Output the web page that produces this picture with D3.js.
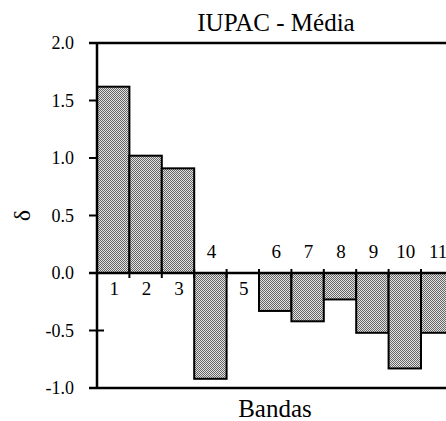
<!DOCTYPE html>
<html>
<head>
<meta charset="utf-8">
<script src="https://cdn.jsdelivr.net/npm/d3@7"></script>
<style>
  html, body { margin: 0; padding: 0; background: #fff; overflow: hidden; }
  svg { display: block; }
  text { font-family: "Liberation Serif", "Times New Roman", serif; fill: #000; }
</style>
</head>
<body>
<div id="chart"></div>
<script>
// data
const bandas = ["1", "2", "3", "4", "5", "6", "7", "8", "9", "10", "11"];
const delta = [1.62, 1.02, 0.91, -0.92, 0, -0.33, -0.42, -0.23, -0.52, -0.83, -0.52];
const yTicks = [2.0, 1.5, 1.0, 0.5, 0.0, -0.5, -1.0];

const width = 446, height = 421;

const svg = d3.select("#chart").append("svg")
    .attr("width", width)
    .attr("height", height);

// checkered grey fill like the scanned bars
const defs = svg.append("defs");
const pat = defs.append("pattern")
    .attr("id", "dots")
    .attr("width", 2).attr("height", 2)
    .attr("patternUnits", "userSpaceOnUse");
pat.append("rect").attr("width", 2).attr("height", 2).attr("fill", "#e2e2e2");
pat.append("rect").attr("x", 0).attr("y", 0).attr("width", 1).attr("height", 1).attr("fill", "#666");
pat.append("rect").attr("x", 1).attr("y", 1).attr("width", 1).attr("height", 1).attr("fill", "#666");

// scales
const x = d3.scaleBand().domain(bandas).range([97, 453.4]).padding(0);
const y = d3.scaleLinear().domain([-1, 2]).range([388, 43]);

// y ticks (crossing the axis, bars drawn over them)
svg.append("g")
    .selectAll("line")
    .data(yTicks)
    .join("line")
    .attr("x1", 89).attr("x2", 104)
    .attr("y1", d => y(d)).attr("y2", d => y(d))
    .attr("stroke", "#000").attr("stroke-width", 2);

svg.append("g")
    .selectAll("text")
    .data(yTicks)
    .join("text")
    .attr("x", 74)
    .attr("y", d => y(d))
    .attr("dy", "0.35em")
    .attr("text-anchor", "end")
    .attr("font-size", 18)
    .text(d => d3.format(".1f")(d).replace("−", "-"));

// bars
svg.append("g")
    .selectAll("rect")
    .data(delta)
    .join("rect")
    .attr("x", (d, i) => x(bandas[i]))
    .attr("width", x.bandwidth())
    .attr("y", d => y(Math.max(0, d)))
    .attr("height", d => Math.abs(y(d) - y(0)))
    .attr("fill", "url(#dots)")
    .attr("stroke", "#000")
    .attr("stroke-width", 2);

// zero line and boundary ticks
svg.append("line")
    .attr("x1", 89).attr("x2", width)
    .attr("y1", y(0)).attr("y2", y(0))
    .attr("stroke", "#000").attr("stroke-width", 2.5);

svg.append("g")
    .selectAll("line")
    .data(bandas.slice(1))
    .join("line")
    .attr("x1", d => x(d)).attr("x2", d => x(d))
    .attr("y1", y(0) - 4).attr("y2", y(0) + 5)
    .attr("stroke", "#000").attr("stroke-width", 2);

// band labels: below zero for positive/zero bars, above for negative
svg.append("g")
    .selectAll("text")
    .data(delta)
    .join("text")
    .attr("x", (d, i) => x(bandas[i]) + x.bandwidth() / 2 + 1)
    .attr("y", d => d < 0 ? y(0) - 15 : y(0) + 22)
    .attr("text-anchor", "middle")
    .attr("font-size", 19)
    .text((d, i) => bandas[i]);

// frame: left axis, top and bottom lines
svg.append("line")
    .attr("x1", 97).attr("x2", 97)
    .attr("y1", y(2)).attr("y2", y(-1))
    .attr("stroke", "#000").attr("stroke-width", 2.5);
svg.append("line")
    .attr("x1", 89).attr("x2", width)
    .attr("y1", y(2)).attr("y2", y(2))
    .attr("stroke", "#000").attr("stroke-width", 2.5);
svg.append("line")
    .attr("x1", 89).attr("x2", width)
    .attr("y1", y(-1)).attr("y2", y(-1))
    .attr("stroke", "#000").attr("stroke-width", 2.5);

// titles
svg.append("text")
    .attr("x", 276).attr("y", 31)
    .attr("text-anchor", "middle")
    .attr("font-size", 25)
    .text("IUPAC - Média");

svg.append("text")
    .attr("x", 275).attr("y", 417)
    .attr("text-anchor", "middle")
    .attr("font-size", 25)
    .text("Bandas");

svg.append("text")
    .attr("transform", `translate(30, ${(y(2) + y(-1)) / 2}) rotate(-90)`)
    .attr("text-anchor", "middle")
    .attr("font-size", 24)
    .text("δ");
</script>
</body>
</html>
